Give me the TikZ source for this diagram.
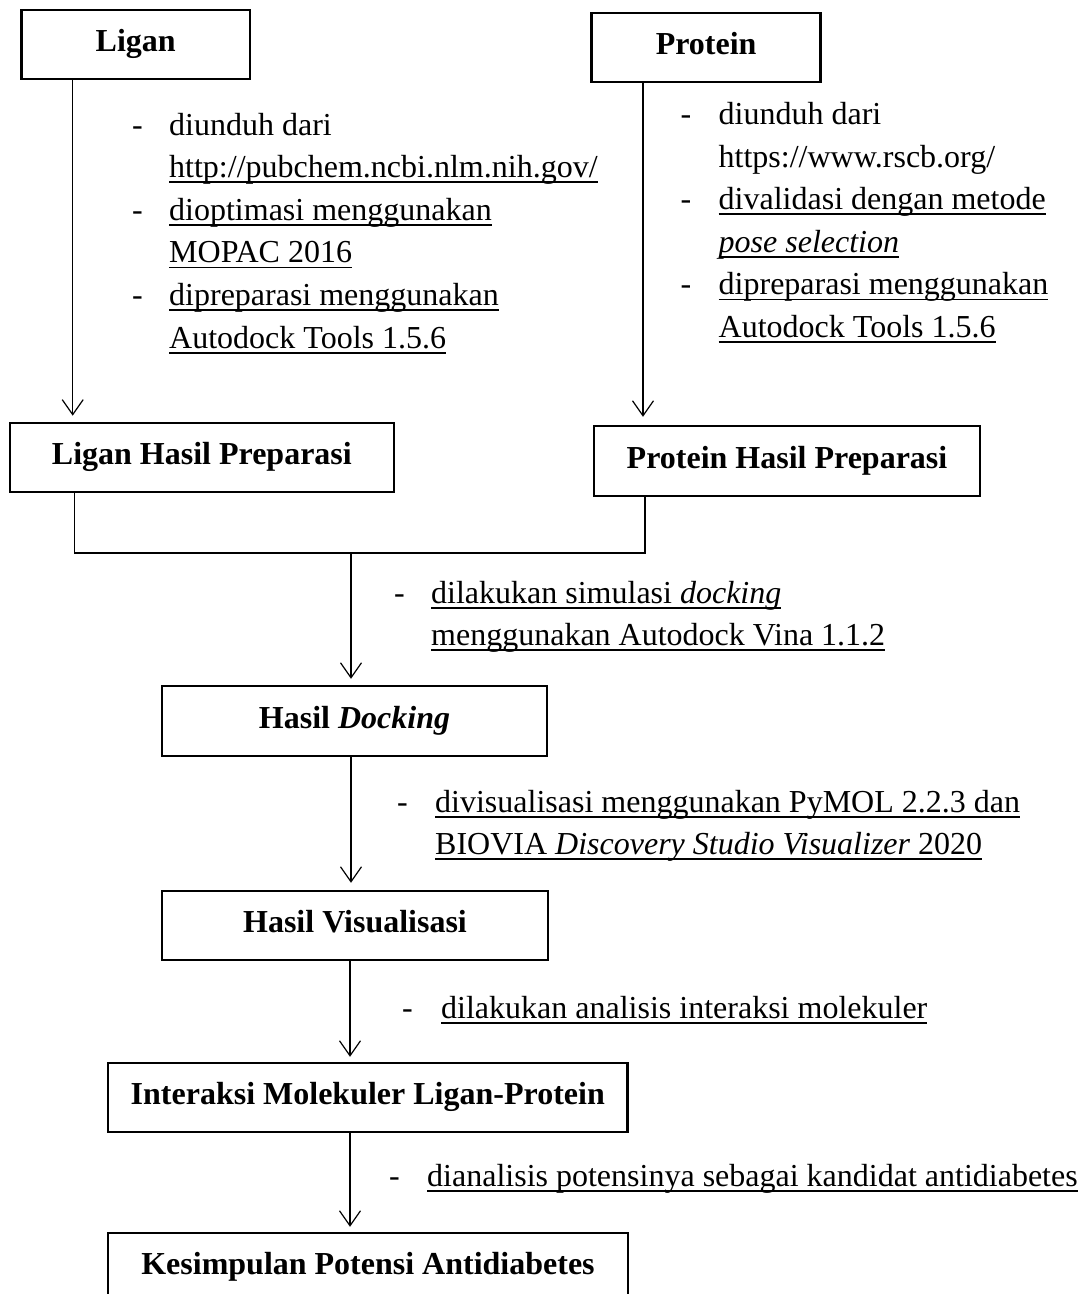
\documentclass[tikz,border=0pt]{standalone}
\usepackage{fontspec}
\setmainfont{Liberation Serif}
\usetikzlibrary{arrows.meta}
\newcommand\myul[1]{\setbox0\hbox{#1}\rlap{\rule[-5.5pt]{\wd0}{1.8pt}}\box0}
\newcommand\dsh[1]{\makebox[#1][l]{-}}
\tikzset{
  box/.style={draw, line width=2.4pt, inner sep=0pt,
    font=\fontsize{32}{42.6}\selectfont\bfseries,
    text height=22pt, text depth=8pt, align=center},
  arr/.style={line width=1.2pt, -{Straight Barb[length=15pt,width=21pt]}},
  ln/.style={line width=1.2pt},
  note/.style={anchor=base west, inner sep=0pt,
    font=\fontsize{32}{42.6}\selectfont}
}
\begin{document}
\begin{tikzpicture}[x=1pt,y=-1pt]
\useasboundingbox (0,0) rectangle (1084,1294);
\clip (0,0) rectangle (1084,1294);

% boxes
\node[box, minimum width=228.5pt, minimum height=69pt] (L)   at (135.75,44.5)  {Ligan};
\node[box, minimum width=229pt,   minimum height=69pt] (P)   at (706.15,47.35) {Protein};
\node[box, minimum width=384.3pt, minimum height=69pt] (LHP) at (201.85,457.35) {Ligan Hasil Preparasi};
\node[box, minimum width=386pt,   minimum height=70pt] (PHP) at (787,461) {Protein Hasil Preparasi};
\node[box, minimum width=385pt,   minimum height=70pt] (HD)  at (354.5,721) {Hasil \textit{Docking}};
\node[box, minimum width=386pt,   minimum height=69pt] (HV)  at (355,925.5) {Hasil Visualisasi};
\node[box, minimum width=519.5pt, minimum height=69pt] (IM)  at (367.75,1097.5) {Interaksi Molekuler Ligan-Protein};
\node[box, minimum width=520pt,   minimum height=69pt] (KS)  at (368,1267.5) {Kesimpulan Potensi Antidiabetes};

% notes
\node[note] (nL) at (132,135) {\begin{tabular}[t]{@{}l@{}l@{}}
\dsh{37pt} & diunduh dari\\
 & \myul{http://pubchem.ncbi.nlm.nih.gov/}\\
\dsh{37pt} & \myul{dioptimasi menggunakan}\\
 & \myul{MOPAC 2016}\\
\dsh{37pt} & \myul{dipreparasi menggunakan}\\
 & \myul{Autodock Tools 1.5.6}
\end{tabular}};

\node[note] (nP) at (680.5,124.5) {\begin{tabular}[t]{@{}l@{}l@{}}
\dsh{38pt} & diunduh dari\\
 & https://www.rscb.org/\\
\dsh{38pt} & \myul{divalidasi dengan metode}\\
 & \myul{\textit{pose selection}}\\
\dsh{38pt} & \myul{dipreparasi menggunakan}\\
 & \myul{Autodock Tools 1.5.6}
\end{tabular}};

\node[note] (nD) at (394,603) {\begin{tabular}[t]{@{}l@{}l@{}}
\dsh{37pt} & \myul{dilakukan simulasi \textit{docking}}\\
 & \myul{menggunakan Autodock Vina 1.1.2}
\end{tabular}};

\node[note] (nV) at (397,812) {\begin{tabular}[t]{@{}l@{}l@{}}
\dsh{38pt} & \myul{divisualisasi menggunakan PyMOL 2.2.3 dan}\\
 & \myul{BIOVIA \textit{Discovery Studio Visualizer} 2020}
\end{tabular}};

\node[note] (nA) at (402,1018) {\dsh{39pt}\myul{dilakukan analisis interaksi molekuler}};
\node[note] (nK) at (389,1186) {\dsh{38pt}\myul{dianalisis potensinya sebagai kandidat antidiabetes}};

% connector helper coordinates
\coordinate (xL) at (72.7,0);
\coordinate (xP) at (643,0);
\coordinate (xLHP) at (74.4,0);
\coordinate (xPHP) at (645,0);
\coordinate (J) at (351,553);
\coordinate (xC) at (351,0);
\coordinate (xC2) at (350,0);

% connectors
\draw[arr, shorten >=6pt] (L.south -| xL) -- (LHP.north -| xL);
\draw[arr, shorten >=8pt] (P.south -| xP) -- (PHP.north -| xP);
\draw[ln] (LHP.south -| xLHP) |- (J) -| (PHP.south -| xPHP);
\draw[arr, shorten >=6pt] (J) -- (HD.north -| J);
\draw[arr, shorten >=7pt] (HD.south -| xC) -- (HV.north -| xC);
\draw[arr, shorten >=5pt] (HV.south -| xC2) -- (IM.north -| xC2);
\draw[arr, shorten >=5pt] (IM.south -| xC2) -- (KS.north -| xC2);
\end{tikzpicture}
\end{document}
